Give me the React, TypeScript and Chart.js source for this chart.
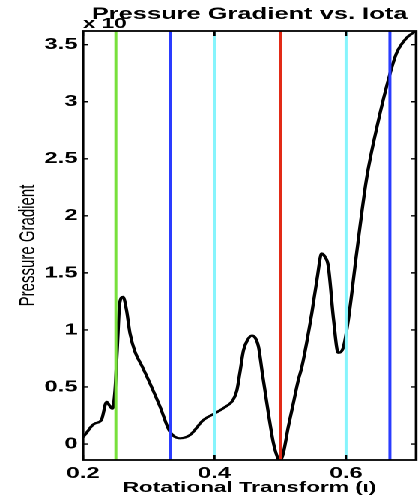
import React, { useEffect, useRef } from "react";
import { Chart, registerables } from "chart.js";

Chart.register(...registerables);

// ---- data -------------------------------------------------------------
const TITLE = "Pressure Gradient vs. Iota";
const X_TITLE = "Rotational Transform (\u03b9)";
const Y_TITLE = "Pressure Gradient";
const EXPONENT_LABEL = "x 10";

const IOTA = [
  0.2, 0.2056, 0.212, 0.218, 0.228, 0.236, 0.24, 0.2446, 0.2487, 0.252, 0.256,
  0.261, 0.266, 0.2715, 0.279, 0.29, 0.302, 0.317, 0.332, 0.3475, 0.363, 0.383,
  0.4008, 0.415, 0.4286, 0.434, 0.439, 0.444, 0.45, 0.4566, 0.462, 0.467,
  0.4725, 0.4819, 0.4895, 0.496, 0.4996, 0.5046, 0.5122, 0.52, 0.5274, 0.533,
  0.548, 0.556, 0.563, 0.568, 0.573, 0.581, 0.588, 0.596, 0.6035, 0.616, 0.631,
  0.647, 0.667, 0.677, 0.692, 0.706,
];
const PRESSURE_GRADIENT = [
  0.06, 0.1, 0.15, 0.18, 0.21, 0.37, 0.34, 0.31, 0.47, 0.82, 1.24, 1.29, 1.18,
  0.97, 0.81, 0.68, 0.53, 0.33, 0.11, 0.05, 0.08, 0.21, 0.27, 0.32, 0.39, 0.47,
  0.64, 0.82, 0.91, 0.95, 0.93, 0.85, 0.63, 0.27, 0.01, -0.12, -0.146, -0.08,
  0.15, 0.36, 0.56, 0.68, 1.15, 1.45, 1.67, 1.64, 1.56, 1.09, 0.8, 0.85, 1.09,
  1.67, 2.32, 2.78, 3.25, 3.43, 3.56, 3.62,
];

const RESONANCES = [0.25, 1 / 3, 0.4, 0.5, 0.6, 2 / 3];
const RESONANCE_COLORS = ["#78e03c", "#2a3cff", "#86f4fc", "#e22a16", "#86f4fc", "#2a3cff"];

const X_TICKS = [0.2, 0.4, 0.6];
const Y_TICKS = [0, 0.5, 1, 1.5, 2, 2.5, 3, 3.5];
const X_MIN = 0.2;
const X_MAX = 0.7065;
const Y_MIN = -0.14;
const Y_MAX = 3.62;

// ---- layout (natural, before horizontal stretch) ----------------------
const OUT_W = 418;
const OUT_H = 500;
const NAT_W = 279;
const STRETCH = OUT_W / NAT_W;
const FONT = "'Liberation Sans', Arial, Helvetica, sans-serif";

const framePlugin = {
  id: "matlabFrame",
  afterDatasetsDraw(chart: any) {
    const { ctx, chartArea, scales } = chart;
    const { left, right, top, bottom } = chartArea;
    ctx.save();
    ctx.strokeStyle = "#000";
    ctx.lineWidth = 1.8;
    ctx.strokeRect(left, top, right - left, bottom - top);
    ctx.lineWidth = 1.4;
    const hl = 3.5;
    const vl = 5;
    ctx.beginPath();
    for (const v of Y_TICKS) {
      const y = scales.y.getPixelForValue(v);
      ctx.moveTo(left, y);
      ctx.lineTo(left + hl, y);
      ctx.moveTo(right, y);
      ctx.lineTo(right - hl, y);
    }
    for (const v of X_TICKS) {
      const x = scales.x.getPixelForValue(v);
      ctx.moveTo(x, bottom);
      ctx.lineTo(x, bottom - vl);
      ctx.moveTo(x, top);
      ctx.lineTo(x, top + vl);
    }
    ctx.stroke();
    ctx.restore();
  },
  afterDraw(chart: any) {
    const { ctx, chartArea } = chart;
    ctx.save();
    ctx.fillStyle = "#000";
    ctx.font = `bold 15px ${FONT}`;
    ctx.textAlign = "left";
    ctx.textBaseline = "alphabetic";
    ctx.fillText(EXPONENT_LABEL, chartArea.left, 28);
    ctx.restore();
  },
};

export default function App() {
  const canvasRef = useRef<HTMLCanvasElement | null>(null);

  useEffect(() => {
    if (!canvasRef.current) return;
    const curve = IOTA.map((x, i) => ({ x, y: PRESSURE_GRADIENT[i] }));
    const vlines = RESONANCES.map((r, i) => ({
      data: [
        { x: r, y: Y_MIN },
        { x: r, y: Y_MAX },
      ],
      borderColor: RESONANCE_COLORS[i],
      backgroundColor: RESONANCE_COLORS[i],
      borderWidth: 2,
      pointRadius: 0,
      fill: false,
      order: 1,
    }));

    const chart = new Chart(canvasRef.current, {
      type: "line",
      data: {
        datasets: [
          {
            data: curve,
            borderColor: "#000",
            backgroundColor: "#000",
            borderWidth: 2.2,
            pointRadius: 0,
            fill: false,
            cubicInterpolationMode: "monotone",
            order: 2,
          },
          ...vlines,
        ] as any,
      },
      options: {
        animation: false,
        responsive: true,
        maintainAspectRatio: false,
        devicePixelRatio: 2,
        parsing: false as any,
        layout: { padding: { left: 0, right: 1.3, top: 0, bottom: 0 } },
        plugins: {
          legend: { display: false },
          tooltip: { enabled: false },
          title: {
            display: true,
            text: TITLE,
            fullSize: false,
            color: "#000",
            font: { family: FONT, size: 17, weight: "bold" },
            padding: { top: 4, bottom: 6.6 },
          },
        },
        scales: {
          x: {
            type: "linear",
            min: X_MIN,
            max: X_MAX,
            grid: { display: false, drawTicks: false },
            border: { display: false },
            afterBuildTicks: (s: any) => {
              s.ticks = X_TICKS.map((value) => ({ value }));
            },
            afterFit: (s: any) => {
              s.height = 40;
            },
            ticks: {
              color: "#000",
              padding: 4,
              maxRotation: 0,
              font: { family: FONT, size: 16, weight: "bold" },
              callback: (v: any) => String(v),
            },
            title: {
              display: true,
              text: X_TITLE,
              color: "#000",
              font: { family: FONT, size: 15, weight: "bold" },
              padding: { top: 0, bottom: 3 },
            },
          },
          y: {
            type: "linear",
            min: Y_MIN,
            max: Y_MAX,
            grid: { display: false, drawTicks: false },
            border: { display: false },
            afterBuildTicks: (s: any) => {
              s.ticks = Y_TICKS.map((value) => ({ value }));
            },
            afterFit: (s: any) => {
              s.width = 55.4;
            },
            ticks: {
              color: "#000",
              padding: 3.5,
              font: { family: FONT, size: 16, weight: "bold" },
              callback: (v: any) => String(v),
            },
            title: {
              display: true,
              text: Y_TITLE,
              color: "#000",
              font: { family: FONT, size: 15 },
              padding: { top: 10, bottom: 0 },
            },
          },
        },
      },
      plugins: [framePlugin],
    });
    return () => chart.destroy();
  }, []);

  return (
    <div
      style={{
        position: "absolute",
        left: 0,
        top: 0,
        width: NAT_W,
        height: OUT_H,
        transform: `scaleX(${STRETCH})`,
        transformOrigin: "0 0",
        background: "#fff",
      }}
    >
      <canvas ref={canvasRef} />
    </div>
  );
}
